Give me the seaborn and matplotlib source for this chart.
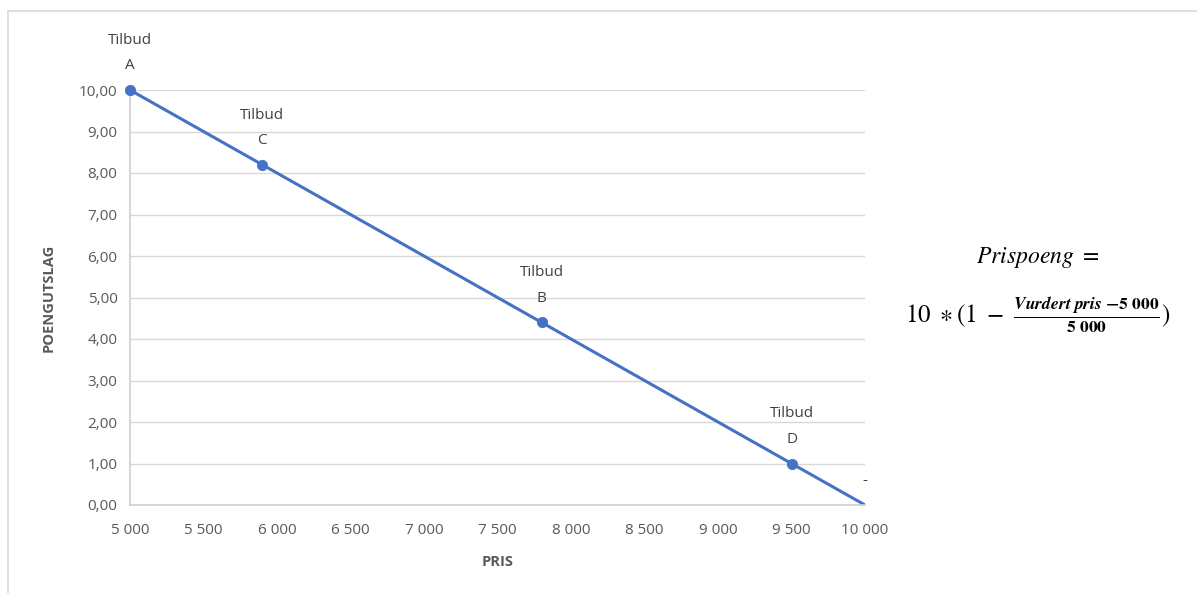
import matplotlib
matplotlib.use("Agg")
import matplotlib.pyplot as plt
from matplotlib.lines import Line2D
import seaborn as sns
import pandas as pd

# Data
pris = [5000, 5900, 7800, 9500, 10000]
poeng = [10.0, 8.2, 4.4, 1.0, 0.0]
labels = ["Tilbud\nA", "Tilbud\nC", "Tilbud\nB", "Tilbud\nD", "-"]
marker_flags = [True, True, True, True, False]
x_ticks = [5000, 5500, 6000, 6500, 7000, 7500, 8000, 8500, 9000, 9500, 10000]
y_ticks = [0, 1, 2, 3, 4, 5, 6, 7, 8, 9, 10]

sns.set_theme(style="white")
plt.rcParams["font.family"] = ["Open Sans", "DejaVu Sans"]
plt.rcParams["mathtext.fontset"] = "stix"

W, H = 1197, 593
fig = plt.figure(figsize=(W / 100, H / 100), dpi=100)
fig.patch.set_facecolor("white")
ax = fig.add_axes([130 / W, 1 - 505 / H, (865 - 130) / W, (505 - 90) / H])

df = pd.DataFrame({"pris": pris, "poeng": poeng})
blue = "#4472C4"
sns.lineplot(data=df, x="pris", y="poeng", ax=ax, color=blue, linewidth=2.2)
mdf = df[marker_flags]
sns.scatterplot(data=mdf, x="pris", y="poeng", ax=ax, color=blue, s=55,
                edgecolor=blue, zorder=5, clip_on=False)

ax.set_xlim(5000, 10000)
ax.set_ylim(0, 10)
ax.set_xticks(x_ticks)
ax.set_xticklabels([f"{v:,}".replace(",", " ") for v in x_ticks])
ax.set_yticks(y_ticks)
ax.set_yticklabels([f"{v:.2f}".replace(".", ",") for v in y_ticks])
grey = "#595959"
ax.tick_params(axis="x", colors=grey, labelsize=11, length=0, pad=13)
ax.tick_params(axis="y", colors=grey, labelsize=11, length=0, pad=9)
ax.yaxis.grid(True, color="#D9D9D9", linewidth=1)
ax.xaxis.grid(False)
for s in ["top", "right"]:
    ax.spines[s].set_visible(False)
for s in ["left", "bottom"]:
    ax.spines[s].set_color("#D0D0D0")
    ax.spines[s].set_linewidth(1.2)
ax.set_xlabel("PRIS", color=grey, fontsize=10.5, fontweight="bold", labelpad=12)
ax.set_ylabel("POENGUTSLAG", color=grey, fontsize=10.5, fontweight="bold", labelpad=17)

for x, y, t in zip(pris, poeng, labels):
    ax.annotate(t, (x, y), xytext=(0, 12), textcoords="offset points",
                ha="center", va="bottom", fontsize=11, color="#404040",
                linespacing=1.95, annotation_clip=False)

# Formula
fig.text(1038 / W, 1 - 258 / H, r"$Prispoeng\ =$", ha="center", va="center",
         fontsize=17, color="black")
fig.text(1038 / W, 1 - 315 / H,
         r"$\mathrm{10}\ \ast(1\ -\ \frac{\mathbfit{Vurdert\ pris}\ \mathbf{-5\ 000}}{\mathbf{5\ 000}})$",
         ha="center", va="center", fontsize=18, color="black")

# Outer border
fig.add_artist(Line2D([7.5 / W, 7.5 / W], [0, 1 - 10.5 / H], transform=fig.transFigure,
                      color="#D9D9D9", linewidth=1.2))
fig.add_artist(Line2D([7.5 / W, 1], [1 - 10.5 / H, 1 - 10.5 / H], transform=fig.transFigure,
                      color="#D9D9D9", linewidth=1.2))

fig.savefig("out.png", dpi=100)
